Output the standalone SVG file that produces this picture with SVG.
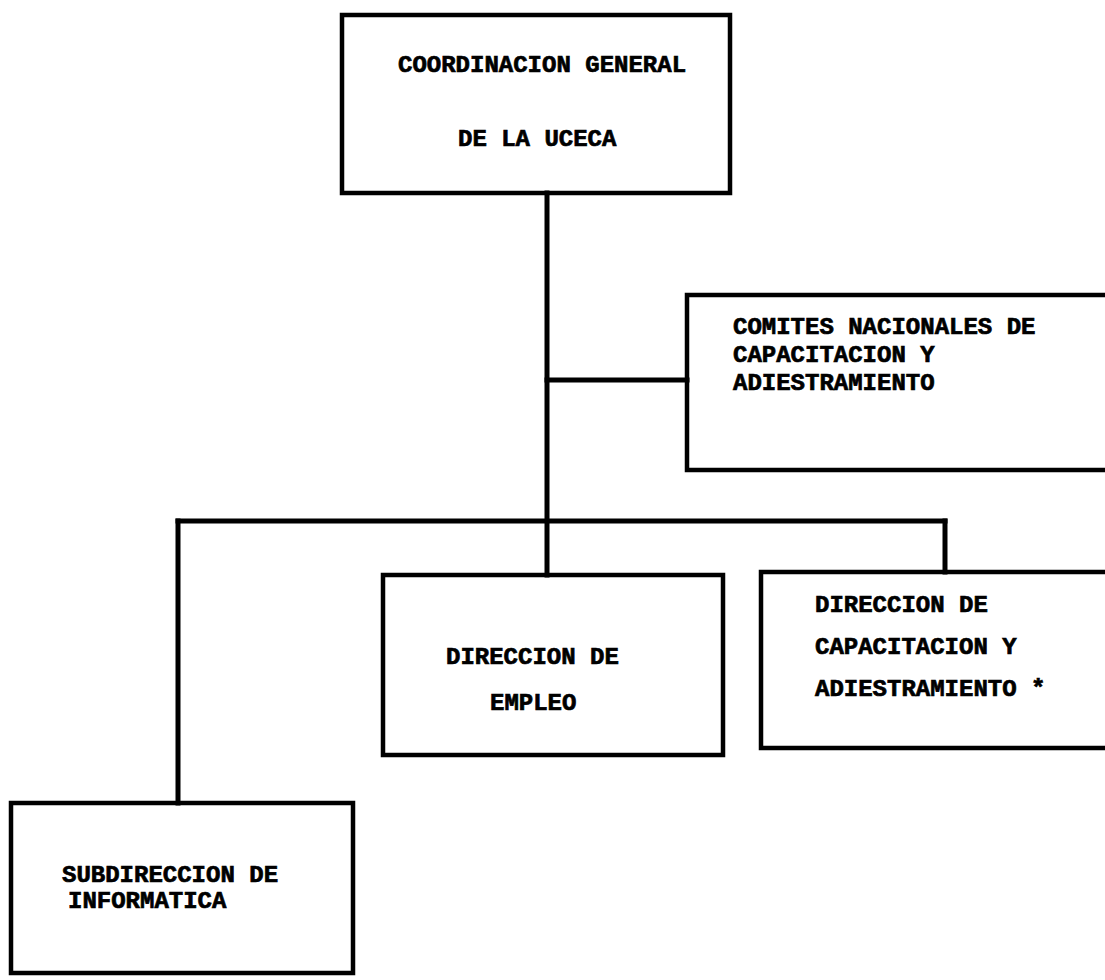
<svg xmlns="http://www.w3.org/2000/svg" width="1105" height="980" viewBox="0 0 1105 980">
<style>
.box{fill:none;stroke:#000;stroke-width:4.5}
.conn{fill:none;stroke:#000;stroke-width:5;stroke-linecap:square}
.t{font-family:"Liberation Mono","Courier New",monospace;font-weight:bold;font-size:24px;fill:#000;stroke:#000;stroke-width:0.7}
</style>
<rect width="1105" height="980" fill="#fff"/>
<g id="connectors">
<line class="conn" x1="547" y1="193" x2="547" y2="575"/>
<line class="conn" x1="547" y1="380" x2="687" y2="380"/>
<line class="conn" x1="178" y1="521" x2="945" y2="521"/>
<line class="conn" x1="178" y1="521" x2="178" y2="803"/>
<line class="conn" x1="945" y1="521" x2="945" y2="572"/>
</g>
<g id="coordinacion">
<rect class="box" x="342" y="15" width="388" height="178"/>
<text class="t" x="398" y="72">COORDINACION GENERAL</text>
<text class="t" x="458" y="146">DE LA UCECA</text>
</g>
<g id="comites">
<path class="box" d="M1110 295 H687 V470 H1110"/>
<text class="t" x="733" y="334">COMITES NACIONALES DE</text>
<text class="t" x="733" y="362">CAPACITACION Y</text>
<text class="t" x="733" y="390">ADIESTRAMIENTO</text>
</g>
<g id="empleo">
<rect class="box" x="383" y="575" width="340" height="180"/>
<text class="t" x="446" y="664">DIRECCION DE</text>
<text class="t" x="490" y="710">EMPLEO</text>
</g>
<g id="capacitacion">
<path class="box" d="M1110 572 H761 V748 H1110"/>
<text class="t" x="815" y="612">DIRECCION DE</text>
<text class="t" x="815" y="654">CAPACITACION Y</text>
<text class="t" x="815" y="696">ADIESTRAMIENTO *</text>
</g>
<g id="subdireccion">
<rect class="box" x="11" y="803" width="342" height="170"/>
<text class="t" x="62" y="882">SUBDIRECCION DE</text>
<text class="t" x="68" y="908">INFORMATICA</text>
</g>
</svg>
